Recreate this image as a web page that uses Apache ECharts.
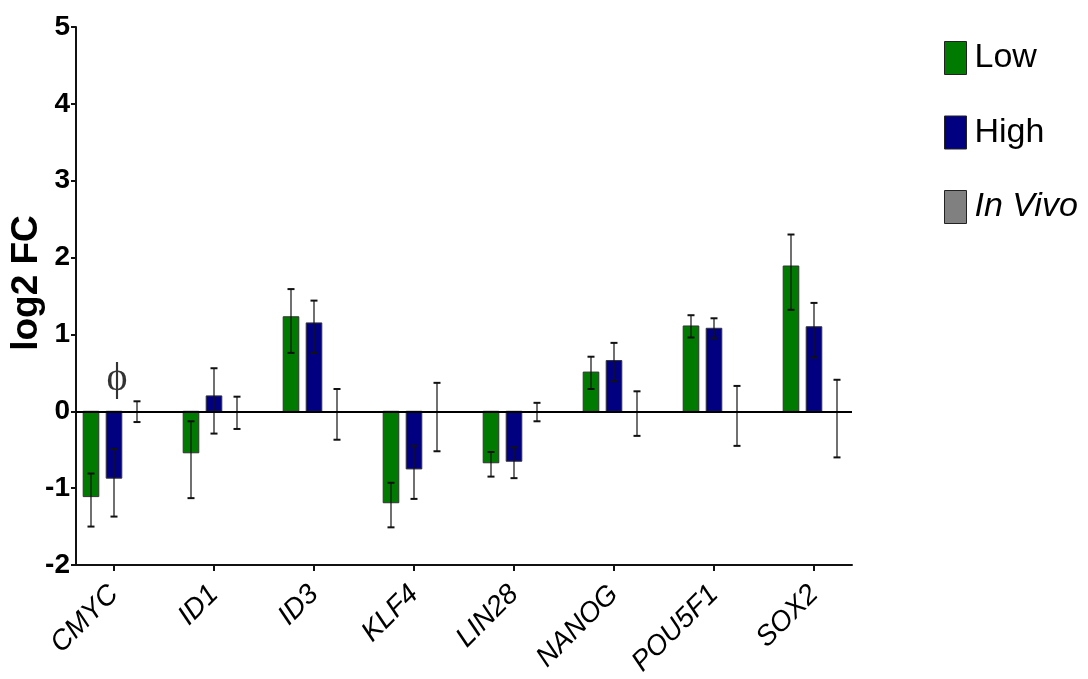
<!DOCTYPE html>
<html>
<head>
<meta charset="utf-8">
<script src="https://cdn.jsdelivr.net/npm/echarts@6/dist/echarts.min.js"></script>
<style>
html,body{margin:0;padding:0;background:#fff;}
#chart{width:1088px;height:679px;}
</style>
</head>
<body>
<div id="chart"></div>
<script>
// ---- data ----
var categories = ['CMYC', 'ID1', 'ID3', 'KLF4', 'LIN28', 'NANOG', 'POU5F1', 'SOX2'];
var lowMean   = [-1.11, -0.54, 1.23, -1.19, -0.67, 0.51, 1.11, 1.89];
var lowErrLo  = [-1.50, -1.13, 0.76, -1.51, -0.85, 0.29, 0.96, 1.32];
var lowErrHi  = [-0.81, -0.13, 1.59, -0.93, -0.53, 0.71, 1.25, 2.30];
var highMean  = [-0.87, 0.20, 1.15, -0.75, -0.65, 0.66, 1.08, 1.10];
var highErrLo = [-1.37, -0.29, 0.76, -1.14, -0.87, 0.39, 0.95, 0.70];
var highErrHi = [-0.49, 0.56, 1.44, -0.45, -0.47, 0.89, 1.21, 1.41];
var vivoMean  = [0, 0, 0, 0, 0, 0, 0, 0];
var vivoErrLo = [-0.14, -0.23, -0.37, -0.52, -0.13, -0.32, -0.45, -0.60];
var vivoErrHi = [0.13, 0.19, 0.29, 0.37, 0.11, 0.26, 0.33, 0.41];
var yTicks = [-2, -1, 0, 1, 2, 3, 4, 5];
var seriesNames = ['Low', 'High', 'In Vivo'];
var annotations = [{ cat: 0, y: 0.41, text: '\u03D5' }];

var colors = { 'Low': '#007a00', 'High': '#000080', 'In Vivo': '#808080' };
var slotOffset = { 'Low': -0.23, 'High': 0, 'In Vivo': 0.23 };

function buildData(mean, lo, hi) {
  return mean.map(function (m, i) { return [i, m, lo[i], hi[i]]; });
}

function makeRender(name) {
  return function (params, api) {
    var x = api.value(0);
    var unit = api.size([1, 0])[0];
    var off = slotOffset[name] * unit;
    var halfW = 0.078 * unit;
    var top = api.coord([x, api.value(1)]);
    var base = api.coord([x, 0]);
    var lo = api.coord([x, api.value(2)]);
    var hi = api.coord([x, api.value(3)]);
    var cx = top[0] + off;
    var children = [];
    if (api.value(1) !== 0) {
      var y0 = Math.min(top[1], base[1]);
      var h = Math.abs(top[1] - base[1]);
      children.push({
        type: 'rect',
        shape: { x: cx - halfW, y: y0, width: halfW * 2, height: h },
        style: { fill: colors[name], stroke: '#333', lineWidth: 1 }
      });
    }
    var cap = 3.5;
    children.push({ type: 'line', shape: { x1: cx, y1: lo[1], x2: cx, y2: hi[1] }, style: { stroke: '#111', lineWidth: 1.2 } });
    children.push({ type: 'line', shape: { x1: cx - cap, y1: lo[1], x2: cx + cap, y2: lo[1] }, style: { stroke: '#111', lineWidth: 2 } });
    children.push({ type: 'line', shape: { x1: cx - cap, y1: hi[1], x2: cx + cap, y2: hi[1] }, style: { stroke: '#111', lineWidth: 2 } });
    return { type: 'group', children: children };
  };
}

var fontSans = '"Liberation Sans", Arial, sans-serif';

var option = {
  animation: false,
  backgroundColor: '#fff',
  grid: { left: 76, right: 236, top: 27, bottom: 114, containLabel: false, outerBoundsMode: 'none' },
  legend: {
    orient: 'vertical',
    left: 939,
    top: 36,
    itemWidth: 22,
    itemHeight: 33,
    itemGap: 40.5,
    selectedMode: false,
    icon: 'rect',
    textStyle: { fontSize: 34, fontFamily: fontSans, color: '#000', padding: [0, 0, 0, 3] },
    data: seriesNames.map(function (n) {
      return {
        name: n,
        icon: 'rect',
        itemStyle: { color: colors[n], borderColor: '#222', borderWidth: 1 },
        textStyle: n === 'In Vivo' ? { fontStyle: 'italic' } : {}
      };
    })
  },
  xAxis: {
    type: 'value',
    min: -0.38,
    max: 7.38,
    splitLine: { show: false },
    axisLine: { onZero: false, lineStyle: { color: '#111', width: 2 } },
    axisTick: { show: true, length: 6, customValues: categories.map(function (c, i) { return i; }), lineStyle: { color: '#111', width: 2 } },
    axisLabel: {
      customValues: categories.map(function (c, i) { return i; }),
      formatter: function (v) { return categories[Math.round(v)]; },
      rotate: 45,
      margin: 25,
      fontSize: 28,
      fontStyle: 'italic',
      fontFamily: fontSans,
      color: '#000'
    }
  },
  yAxis: {
    type: 'value',
    min: yTicks[0],
    max: yTicks[yTicks.length - 1],
    interval: 1,
    name: 'log2 FC',
    nameLocation: 'middle',
    nameRotate: 90,
    nameGap: 31,
    nameMoveOverlap: false,
    nameTextStyle: { fontSize: 37, fontWeight: 'bold', fontFamily: fontSans, color: '#000', padding: [0, 0, 0, 26] },
    splitLine: { show: false },
    axisLine: { show: true, onZero: false, lineStyle: { color: '#111', width: 2 } },
    axisTick: { show: true, length: 5, lineStyle: { color: '#111', width: 2 } },
    axisLabel: { fontSize: 28, fontWeight: 'bold', fontFamily: fontSans, color: '#000', margin: 6 }
  },
  series: [
    {
      name: 'Low', type: 'custom', renderItem: makeRender('Low'),
      itemStyle: { color: colors['Low'] },
      encode: { x: 0, y: [1, 2, 3] },
      data: buildData(lowMean, lowErrLo, lowErrHi),
      z: 3
    },
    {
      name: 'High', type: 'custom', renderItem: makeRender('High'),
      itemStyle: { color: colors['High'] },
      encode: { x: 0, y: [1, 2, 3] },
      data: buildData(highMean, highErrLo, highErrHi),
      z: 3
    },
    {
      name: 'In Vivo', type: 'custom', renderItem: makeRender('In Vivo'),
      itemStyle: { color: colors['In Vivo'] },
      encode: { x: 0, y: [1, 2, 3] },
      data: buildData(vivoMean, vivoErrLo, vivoErrHi),
      z: 3,
      markLine: {
        silent: true,
        symbol: 'none',
        label: { show: false },
        lineStyle: { color: '#000', width: 2, type: 'solid' },
        data: [{ yAxis: 0 }]
      }
    },
    {
      name: 'annot', type: 'scatter', symbolSize: 0,
      data: annotations.map(function (a) { return [a.cat, a.y]; }),
      label: {
        show: true, position: 'inside', offset: [3, 0],
        formatter: function (p) { return annotations[p.dataIndex].text; },
        fontSize: 40, fontFamily: '"Liberation Serif", "DejaVu Serif", serif', color: '#000'
      },
      z: 5
    }
  ]
};

var chart = echarts.init(document.getElementById('chart'), null, { renderer: 'canvas' });
chart.setOption(option);
</script>
</body>
</html>
